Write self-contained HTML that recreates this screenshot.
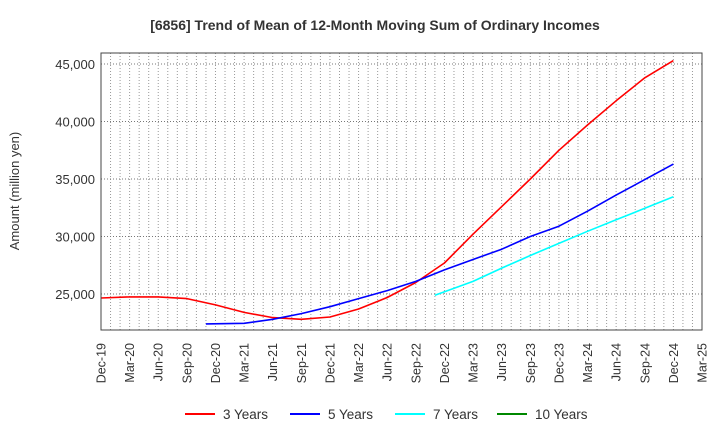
<!DOCTYPE html>
<html><head><meta charset="utf-8"><style>
body{margin:0;background:#fff;font-family:"Liberation Sans",Arial,sans-serif}
svg text{font-family:"Liberation Sans",Arial,sans-serif}
</style></head><body>
<svg id="c" width="720" height="440" xmlns="http://www.w3.org/2000/svg">
<text x="375" y="30" text-anchor="middle" font-size="14" font-weight="bold" fill="#333">[6856]  Trend of Mean of 12-Month Moving Sum of Ordinary Incomes</text>
<text transform="translate(19,191) rotate(-90)" text-anchor="middle" font-size="13" fill="#333">Amount (million yen)</text>
<g id="grid"></g><g id="series"></g><g id="axes"></g><g id="legend"></g>
</svg>
<script>
const xLabels=["Dec-19","Mar-20","Jun-20","Sep-20","Dec-20","Mar-21","Jun-21","Sep-21","Dec-21","Mar-22","Jun-22","Sep-22","Dec-22","Mar-23","Jun-23","Sep-23","Dec-23","Mar-24","Jun-24","Sep-24","Dec-24","Mar-25"];
const yTicks=[25000,30000,35000,40000,45000];
const s3=[24650,24750,24750,24600,24050,23400,22950,22800,23000,23700,24700,26000,27700,30200,32600,35000,37500,39700,41800,43800,45300];
const s5=[22400,22450,22800,23300,23900,24600,25300,26100,27100,28000,28900,30000,30900,32200,33600,34950,36300];
const s7=[24900,26100,27250,28350,29400,30450,31450,32450,33450];
const s10=[];
const L=101,R=702,T=53,B=330,yMin=21870,yMax=45957;
const ns="http://www.w3.org/2000/svg";
const xq=i=>L+i*(R-L)/21;
const xm=m=>L+m*(R-L)/63;
const y=v=>B-(v-yMin)/(yMax-yMin)*(B-T);
function mk(tag,at,p){const e=document.createElementNS(ns,tag);for(const k in at)e.setAttribute(k,at[k]);p.appendChild(e);return e;}
const g=document.getElementById('grid'),ax=document.getElementById('axes'),se=document.getElementById('series'),lg=document.getElementById('legend');
for(let m=1;m<63;m++){const l=mk('line',{x1:xm(m),x2:xm(m),y1:T,y2:B,stroke:'#999','stroke-dasharray':'1,2','stroke-width':1},g);

}
yTicks.forEach(v=>{const l=mk('line',{x1:L,x2:R,y1:y(v),y2:y(v),stroke:'#777','stroke-dasharray':'1,2','stroke-width':1},g);


const t=mk('text',{x:L-6,y:y(v)+5,'text-anchor':'end','font-size':13,fill:'#333'},ax);t.textContent=v.toLocaleString('en-US');

});
const fr=mk('rect',{x:L,y:T,width:R-L,height:B-T,fill:'none',stroke:'#444','stroke-width':1},ax);


xLabels.forEach((s,i)=>{const t=mk('text',{transform:`translate(${xq(i)+4.5},343) rotate(-90)`,'text-anchor':'end','font-size':12.5,fill:'#333'},ax);t.textContent=s;

});
function line(data,start,early,color,name){if(!data.length)return;
const p=data.map((v,i)=>{const xx=(i===0&&early)?xm(start*3-1):xq(start+i);return xx.toFixed(1)+','+y(v).toFixed(1);}).join(' ');
const e=mk('polyline',{points:p,fill:'none',stroke:color,'stroke-width':1.6,'stroke-linejoin':'round'},se);

}
line(s3,0,false,'#f00','series-3-years');line(s5,4,true,'#00f','series-5-years');line(s7,12,true,'#0ff','series-7-years');line(s10,20,true,'#080','series-10-years');
[['3 Years','#f00',185],['5 Years','#00f',290],['7 Years','#0ff',395],['10 Years','#080',497]].forEach(([n,c,x])=>{
const gg=mk('g',{},lg);


mk('line',{x1:x,x2:x+30,y1:414,y2:414,stroke:c,'stroke-width':2},gg);
const t=mk('text',{x:x+38,y:419,'font-size':13.5,fill:'#333'},gg);t.textContent=n;});
</script>
</body></html>
